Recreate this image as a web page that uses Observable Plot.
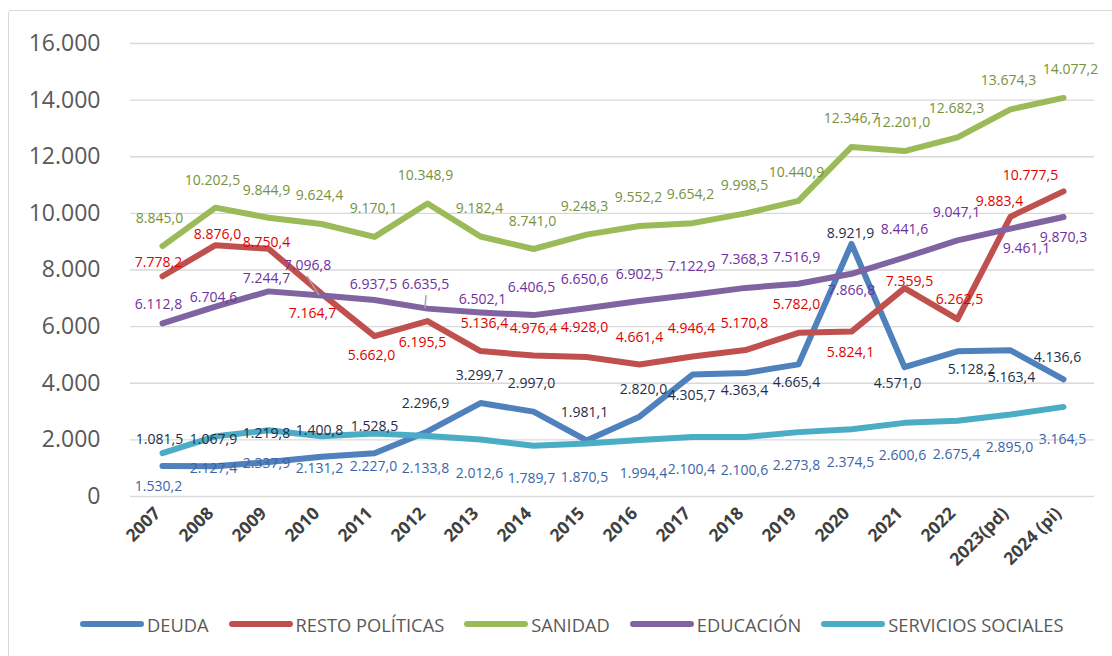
<!DOCTYPE html>
<html><head><meta charset="utf-8">
<script src="https://cdn.jsdelivr.net/npm/d3@7"></script>
<script src="https://cdn.jsdelivr.net/npm/@observablehq/plot@0.6"></script>
<style>
body{margin:0;background:#fff;font-family:"Open Sans",sans-serif;}
#wrap{position:relative;width:1112px;height:656px;overflow:hidden;background:#fff;}
#frame{position:absolute;left:8px;top:10px;width:1200px;height:700px;border:1.5px solid #d9d9d9;border-radius:3px;}
#chart{position:absolute;left:0;top:0;}
#legend{position:absolute;left:80px;top:610px;height:28px;display:flex;align-items:center;gap:20px;font-size:18.3px;color:#595959;white-space:nowrap;}
.item{display:flex;align-items:center;gap:3px;}
.sw{width:64px;height:6px;border-radius:3px;}
</style></head>
<body>
<div id="wrap"><div id="frame"></div><div id="chart"></div><div id="legend"></div></div>
<script>
// ---- data ----
const years = ["2007","2008","2009","2010","2011","2012","2013","2014","2015","2016","2017","2018","2019","2020","2021","2022","2023(pd)","2024 (pi)"];
const seriesNames = ["DEUDA","RESTO POLÍTICAS","SANIDAD","EDUCACIÓN","SERVICIOS SOCIALES"];
const deuda = [1081.5,1067.9,1219.8,1400.8,1528.5,2296.9,3299.7,2997.0,1981.1,2820.0,4305.7,4363.4,4665.4,8921.9,4571.0,5128.2,5163.4,4136.6];
const restoPoliticas = [7778.2,8876.0,8750.4,7164.7,5662.0,6195.5,5136.4,4976.4,4928.0,4661.4,4946.4,5170.8,5782.0,5824.1,7359.5,6262.5,9883.4,10777.5];
const sanidad = [8845.0,10202.5,9844.9,9624.4,9170.1,10348.9,9182.4,8741.0,9248.3,9552.2,9654.2,9998.5,10440.9,12346.7,12201.0,12682.3,13674.3,14077.2];
const educacion = [6112.8,6704.6,7244.7,7096.8,6937.5,6635.5,6502.1,6406.5,6650.6,6902.5,7122.9,7368.3,7516.9,7866.8,8441.6,9047.1,9461.1,9870.3];
const serviciosSociales = [1530.2,2127.4,2337.9,2131.2,2227.0,2133.8,2012.6,1789.7,1870.5,1994.4,2100.4,2100.6,2273.8,2374.5,2600.6,2675.4,2895.0,3164.5];
const yTicks = [0,2000,4000,6000,8000,10000,12000,14000,16000];

// ---- styles ----
const lineColors = ["#4f81bd","#c0504d","#9bbb59","#8064a2","#4bacc6"];
const labelColors = ["#1f2d4a","#e00000","#76923c","#7030a0","#3b64a8"];
// label placement (pixel offsets from each point)
const labelDy = [
  [-26,-27,-28,-26,-27,-28,-28,-28,-28,-27,21,18,18,-10,16,18,27,-22],
  [-14,-11,-6,20,19,21,-28,-27,-29,-27,-28,-27,-28,21,-7,-20,-15,-16],
  [-28,-27,-27,-28,-28,-28,-28,-28,-28,-29,-29,-28,-28,-28,-29,-29,-29,-28],
  [-19,-9,-13,-30,-16,-24,-13,-28,-29,-27,-28,-28,-26,17,-28,-28,20,20],
  [33,32,33,32,33,32,34,33,34,33,32,33,33,33,33,34,33,33]
];
const labelDx = [
  [-3,-2,-2,-2,0,-2,-1,-2,-2,4,-1,-1,-2,-1,-7,14,1,-6],
  [-4,2,-2,-9,-3,-5,4,0,-2,0,-1,-1,-2,-1,5,2,-11,-33],
  [-3,-3,-2,-2,-1,-2,-1,-1,-2,-1,-2,-1,-2,0,-2,-1,-2,7],
  [-4,-2,-2,-14,-1,-2,2,-2,-2,0,-1,-1,-2,0,0,-1,16,0],
  [-4,-2,-2,-2,-1,-2,-1,-2,-2,4,-1,-1,-2,-1,-2,-1,-1,-1]
];

const seriesValues = [deuda, restoPoliticas, sanidad, educacion, serviciosSociales];
const rows = seriesValues.map((vals, s) => vals.map((v, i) => ({series: seriesNames[s], year: years[i], value: v, s, i})));

const loc = d3.formatLocale({decimal: ",", thousands: ".", grouping: [3], currency: ["", "€"]});
const fmt1 = loc.format(",.1f");
const fmt0 = loc.format(",.0f");

const lineMarks = rows.map((r, s) => Plot.line(r, {
  x: "year", y: "value", stroke: lineColors[s], strokeWidth: 6,
  strokeLinecap: "round", strokeLinejoin: "round"
}));

const labelMarks = [];
rows.forEach((r, s) => r.forEach((d, i) => {
  labelMarks.push(Plot.text([d], {
    x: "year", y: "value", text: (d) => fmt1(d.value),
    dx: labelDx[s][i], dy: labelDy[s][i], fill: labelColors[s], fontSize: 14
  }));
}));

// leader lines for the two moved Educación labels
const leaders = (index, scales) => {
  const g = d3.create("svg:g").attr("stroke", "#a6a6a6").attr("stroke-width", 1.5);
  const p10 = [scales.x(years[3]), scales.y(educacion[3])];
  g.append("line").attr("x1", p10[0] - 14).attr("y1", p10[1] - 19).attr("x2", p10[0] - 2).attr("y2", p10[1]);
  const p12 = [scales.x(years[5]), scales.y(educacion[5])];
  g.append("line").attr("x1", p12[0] - 1).attr("y1", p12[1] - 13).attr("x2", p12[0] - 2).attr("y2", p12[1]);
  return g.node();
};

const chart = Plot.plot({
  width: 1112, height: 600,
  marginTop: 43, marginBottom: 104, marginLeft: 130, marginRight: 18,
  style: {fontFamily: "'Open Sans', sans-serif", background: "transparent", overflow: "visible"},
  x: {type: "point", domain: years, padding: 0.5},
  y: {domain: [0, 16000]},
  marks: [
    Plot.gridY(yTicks, {stroke: "#d9d9d9", strokeOpacity: 1, strokeWidth: 1.3}),
    Plot.axisY(yTicks, {tickSize: 0, tickPadding: 30, fontSize: 23, fill: "#595959", tickFormat: fmt0, label: null}),
    Plot.axisX({tickRotate: -45, tickSize: 0, tickPadding: 14, dx: -5, fontSize: 17.5, fontWeight: "bold", fill: "#404040", label: null}),
    ...lineMarks,
    leaders,
    ...labelMarks
  ]
});
document.getElementById("chart").appendChild(chart);

// legend
const legend = document.getElementById("legend");
seriesNames.forEach((name, s) => {
  const it = document.createElement("div");
  it.className = "item";
  const sw = document.createElement("div");
  sw.className = "sw";
  sw.style.background = lineColors[s];
  const t = document.createElement("span");
  t.textContent = name;
  it.appendChild(sw); it.appendChild(t);
  legend.appendChild(it);
});
</script>
</body></html>
